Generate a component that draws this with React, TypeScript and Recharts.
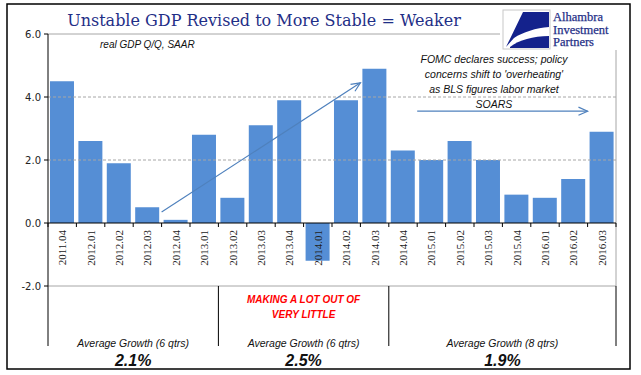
import React from 'react';
import { BarChart, Bar, XAxis, YAxis, ReferenceLine } from 'recharts';

// ---- data ----
const quarters = [
  '2011.04', '2012.01', '2012.02', '2012.03', '2012.04', '2013.01', '2013.02', '2013.03',
  '2013.04', '2014.01', '2014.02', '2014.03', '2014.04', '2015.01', '2015.02', '2015.03',
  '2015.04', '2016.01', '2016.02', '2016.03',
];
const gdpGrowth = [4.5, 2.6, 1.9, 0.5, 0.1, 2.8, 0.8, 3.1, 3.9, -1.2, 3.9, 4.9, 2.3, 2.0, 2.6, 2.0, 0.9, 0.8, 1.4, 2.9];
const yTicks = [-2, 0, 2, 4, 6];
const groupSizes = [6, 6, 8];
const groupLabels = ['Average Growth (6 qtrs)', 'Average Growth (6 qtrs)', 'Average Growth (8 qtrs)'];
const groupAverages = ['2.1%', '2.5%', '1.9%'];
const redNote = ['MAKING A LOT OUT OF', 'VERY LITTLE'];
const fomcNote = [
  'FOMC declares success; policy',
  "concerns shift to 'overheating'",
  'as BLS figures labor market',
  'SOARS',
];
const titleText = 'Unstable GDP Revised to More Stable = Weaker';
const subtitleText = 'real GDP Q/Q, SAAR';
const logoLines = ['Alhambra', 'Investment', 'Partners'];

const data = quarters.map((q, i) => ({ q, v: gdpGrowth[i] }));

// ---- layout ----
const W = 641;
const H = 375;
const PLOT_L = 48;
const PLOT_R = 616;
const MT = 34;
const PLOT_B = 286;
const XH = 60;
const YW = 40;
const Y_MIN = -2;
const Y_MAX = 6;
const PLOT_H = PLOT_B - MT;
const ZERO_Y = MT + (PLOT_H * (Y_MAX - 0)) / (Y_MAX - Y_MIN);
const BAND = (PLOT_R - PLOT_L) / quarters.length;
const TABLE_B = 346;

const BLUE = '#558ED5';
const ARROW = '#4F81BD';
const NAVY = '#1F2F87';
const GRID = '#A6A6A6';

const QuarterTick = (props: any) => {
  const { x, payload, index } = props;
  const half = BAND / 2;
  return (
    <g>
      <line x1={x - half} x2={x - half} y1={ZERO_Y} y2={ZERO_Y + 4} stroke="#000" />
      {index === quarters.length - 1 && (
        <line x1={x + half} x2={x + half} y1={ZERO_Y} y2={ZERO_Y + 4} stroke="#000" />
      )}
      <text
        transform={`translate(${x + 4},${ZERO_Y + 7}) rotate(-90)`}
        textAnchor="end"
        fontFamily="Liberation Serif"
        fontSize={11}
        fill="#222"
      >
        {payload.value}
      </text>
    </g>
  );
};

const ArrowShape = (p: any) => {
  const { x1, y1, x2, y2 } = p;
  if ([x1, y1, x2, y2].some((v) => v === undefined || Number.isNaN(v))) return null;
  const ang = Math.atan2(y2 - y1, x2 - x1);
  const L = 10;
  const A = 0.42;
  const ax = x2 - L * Math.cos(ang - A);
  const ay = y2 - L * Math.sin(ang - A);
  const bx = x2 - L * Math.cos(ang + A);
  const by = y2 - L * Math.sin(ang + A);
  return (
    <g>
      <line x1={x1} y1={y1} x2={x2} y2={y2} stroke={ARROW} strokeWidth={1.2} />
      <polyline points={`${ax},${ay} ${x2},${y2} ${bx},${by}`} fill="none" stroke={ARROW} strokeWidth={1.2} />
    </g>
  );
};

export default function App() {
  let cum = 0;
  const bounds = [PLOT_L];
  const centers: number[] = [];
  groupSizes.forEach((s) => {
    centers.push(PLOT_L + (cum + s / 2) * BAND);
    cum += s;
    bounds.push(PLOT_L + cum * BAND);
  });

  return (
    <div style={{ position: 'absolute', left: 0, top: 0, width: W, height: H, background: '#fff' }}>
      <BarChart
        width={W}
        height={H}
        data={data}
        margin={{ top: MT, right: W - PLOT_R, bottom: H - PLOT_B - XH, left: PLOT_L - YW }}
        barCategoryGap="7%"
      >
        <XAxis dataKey="q" height={XH} axisLine={false} tickLine={false} interval={0} tick={<QuarterTick />} />
        <YAxis
          width={YW}
          domain={[Y_MIN, Y_MAX]}
          ticks={yTicks}
          tickFormatter={(v: number) => v.toFixed(1)}
          axisLine={{ stroke: '#000' }}
          tickLine={{ stroke: '#000' }}
          tickSize={4}
          tickMargin={3}
          tick={{ fontFamily: 'DejaVu Sans', fontSize: 10, fill: '#222' }}
        />
        <ReferenceLine y={6} stroke={GRID} />
        <ReferenceLine y={4} stroke={GRID} strokeDasharray="3 2" />
        <ReferenceLine y={2} stroke={GRID} strokeDasharray="3 2" />
        <ReferenceLine y={-2} stroke={GRID} />
        <ReferenceLine x={quarters[quarters.length - 1]} position="end" stroke={GRID} />
        <Bar dataKey="v" fill={BLUE} isAnimationActive={false} />
        <ReferenceLine y={0} stroke="#000" />
        <ReferenceLine
          segment={[{ x: '2012.04', y: 0.35 }, { x: '2014.03', y: 4.45 }]}
          position="start"
          shape={ArrowShape}
        />
        <ReferenceLine
          segment={[{ x: '2015.01', y: 3.55 }, { x: '2016.03', y: 3.55 }]}
          position="start"
          shape={ArrowShape}
        />
      </BarChart>
      <svg
        width={W}
        height={H}
        style={{ position: 'absolute', left: 0, top: 0, pointerEvents: 'none' }}
      >
        {/* logo area */}
        <rect x={500} y={6} width={128} height={44} fill="#fff" />
        <rect x={503} y={10} width={47} height={39} fill="#fff" stroke="#C8C8C8" strokeWidth={1} />
        <path d="M523,12 L549,12 L549,27 C536,28 523,32 514,38 L506,47 Z" fill="#14228C" />
        <path d="M510,47 C519,40 533,36 549,36 L549,48 L510,48 Z" fill="#14228C" />
        {logoLines.map((t, i) => (
          <text key={t} x={553} y={21 + i * 12.5} fontFamily="Liberation Serif" fontSize={12.5} fill={NAVY} stroke={NAVY} strokeWidth={0.25}>
            {t}
          </text>
        ))}
        {/* title */}
        <text x={264} y={26} textAnchor="middle" fontFamily="DejaVu Serif" fontSize={16} fill={NAVY}>
          {titleText}
        </text>
        <text x={100} y={48} fontFamily="Liberation Sans" fontStyle="italic" fontSize={10} fill="#111">
          {subtitleText}
        </text>
        {fomcNote.map((t, i) => (
          <text
            key={t}
            x={494}
            y={63 + i * 15}
            textAnchor="middle"
            fontFamily="Liberation Sans"
            fontStyle="italic"
            fontSize={10.5}
            fill="#111"
          >
            {t}
          </text>
        ))}
        {/* table below */}
        {bounds.map((bx, i) => (
          <line key={i} x1={bx} x2={bx} y1={PLOT_B} y2={TABLE_B} stroke="#000" strokeWidth={1} />
        ))}
        {centers.map((cx, i) => (
          <g key={i}>
            <text x={cx} y={347} textAnchor="middle" fontFamily="Liberation Sans" fontStyle="italic" fontSize={10.5} fill="#111">
              {groupLabels[i]}
            </text>
            <text x={cx} y={366} textAnchor="middle" fontFamily="Liberation Sans" fontStyle="italic" fontWeight="bold" fontSize={16} fill="#111">
              {groupAverages[i]}
            </text>
          </g>
        ))}
        {redNote.map((t, i) => (
          <text
            key={t}
            x={centers[1]}
            y={303 + i * 15}
            textAnchor="middle"
            fontFamily="Liberation Sans"
            fontStyle="italic"
            fontWeight="bold"
            fontSize={10}
            fill="#FF0000"
          >
            {t}
          </text>
        ))}
        {/* outer frame */}
        <rect x={7} y={4} width={623} height={365} fill="none" stroke="#000" strokeWidth={1.5} />
      </svg>
    </div>
  );
}
